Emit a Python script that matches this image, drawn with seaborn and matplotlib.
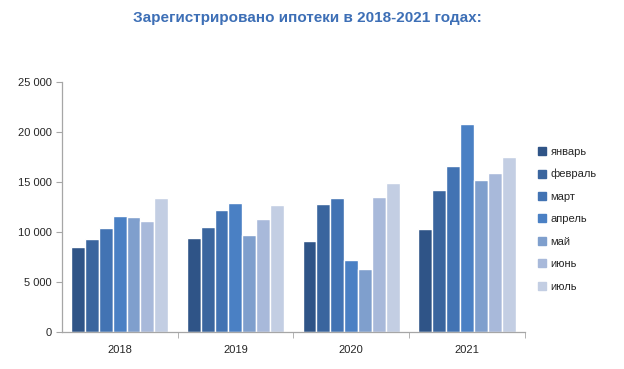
import matplotlib
matplotlib.use('Agg')
import matplotlib.pyplot as plt
import seaborn as sns
import pandas as pd
from matplotlib.ticker import FuncFormatter, FixedLocator
from matplotlib.lines import Line2D

years = ['2018', '2019', '2020', '2021']
months = ['январь', 'февраль', 'март', 'апрель', 'май', 'июнь', 'июль']
colors = ['#2f5487', '#3a659e', '#4273b3', '#4a80c4', '#7f9fcd', '#a8b9da', '#c3cee3']

# registered mortgages per month, rows = years
jan = [8550, 9400, 9150, 10300]
feb = [9350, 10480, 12850, 14200]
mar = [10400, 12200, 13380, 16630]
apr = [11600, 12930, 7180, 20800]
may = [11530, 9720, 6300, 15200]
jun = [11130, 11280, 13530, 15900]
jul = [13400, 12680, 14880, 17530]

series = [jan, feb, mar, apr, may, jun, jul]
rows = []
for m, vals in zip(months, series):
    for y, v in zip(years, vals):
        rows.append({'year': y, 'month': m, 'value': v})
df = pd.DataFrame(rows)

sns.set_style('white')
plt.rcParams['font.family'] = ['Liberation Sans', 'DejaVu Sans']

fig = plt.figure(figsize=(6.24, 3.69), dpi=100)
ax = fig.add_axes([0.099, 0.10, 0.742, 0.678])

sns.barplot(data=df, x='year', y='value', hue='month', hue_order=months,
            palette=colors, width=0.84, edgecolor='white', linewidth=1,
            saturation=1, ax=ax, legend=False)

ax.set_ylim(0, 25000)
ax.set_xlim(-0.5, 3.5)
ax.yaxis.set_major_locator(FixedLocator(range(0, 25001, 5000)))
ax.yaxis.set_major_formatter(FuncFormatter(lambda v, p: f'{int(v):,}'.replace(',', ' ')))
ax.set_xlabel('')
ax.set_ylabel('')

for s in ['top', 'right']:
    ax.spines[s].set_visible(False)
for s in ['left', 'bottom']:
    ax.spines[s].set_color('#a6a6a6')
    ax.spines[s].set_linewidth(0.9)

ax.tick_params(axis='y', which='major', left=True, length=4, color='#a6a6a6',
               labelsize=8, pad=3)
ax.tick_params(axis='x', which='major', bottom=False, labelsize=8, pad=6)
ax.set_xticks([0.5, 1.5, 2.5, 3.5], minor=True)
ax.tick_params(axis='x', which='minor', bottom=True, length=4, color='#a6a6a6')

handles = [Line2D([], [], marker='s', linestyle='', markersize=6,
                  markerfacecolor=c, markeredgecolor=c) for c in colors]
fig.legend(handles, months, loc='upper left', bbox_to_anchor=(0.845, 0.63),
           frameon=False, fontsize=8, labelspacing=1.12, handletextpad=0.4,
           handlelength=0.8)

fig.text(0.493, 0.95, 'Зарегистрировано ипотеки в 2018-2021 годах:',
         ha='center', va='center', color='#3d6fb6', fontsize=11, fontweight='bold')

fig.savefig('out.png', dpi=100)
